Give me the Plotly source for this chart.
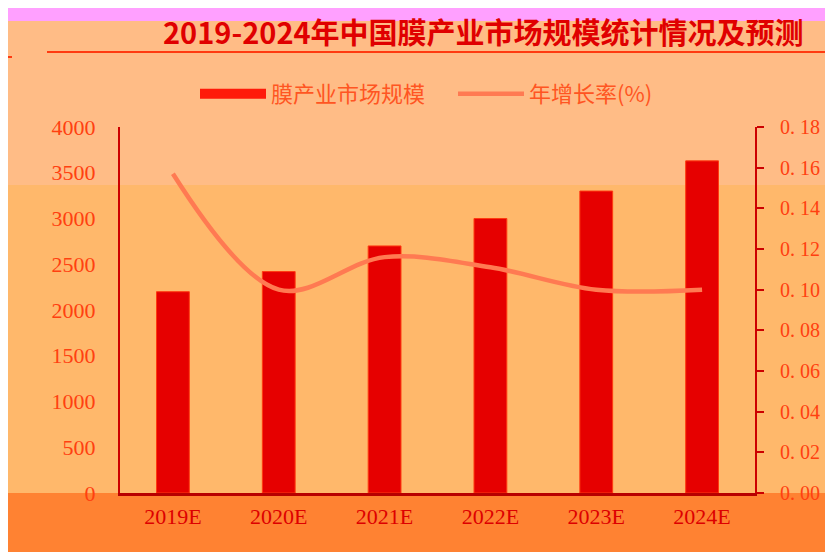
import plotly.graph_objects as go

# ---- data ----
years = ["2019E", "2020E", "2021E", "2022E", "2023E", "2024E"]
market_size = [2200, 2420, 2700, 3000, 3300, 3630]
growth_rate = [0.157, 0.10, 0.116, 0.111, 0.10, 0.10]
left_ticks = [0, 500, 1000, 1500, 2000, 2500, 3000, 3500, 4000]
right_ticks = [0.0, 0.02, 0.04, 0.06, 0.08, 0.10, 0.12, 0.14, 0.16, 0.18]
right_labels = ["0. 00", "0. 02", "0. 04", "0. 06", "0. 08", "0. 10", "0. 12", "0. 14", "0. 16", "0. 18"]
title_text = "2019-2024年中国膜产业市场规模统计情况及预测"
bar_name = "膜产业市场规模"
line_name = "年增长率(%)"

serif = "Liberation Serif, DejaVu Serif, Noto Sans CJK SC, serif"
cjk = "Noto Sans CJK SC, Liberation Serif, serif"

BAR_COLOR = "#E60000"
LINE_COLOR = "#FF7A52"

fig = go.Figure()
fig.add_trace(go.Bar(
    x=years, y=market_size, name=bar_name, showlegend=False, legendgroup="bar",
    marker=dict(color=BAR_COLOR, line=dict(color="#FF3A10", width=1)),
))
# legend entry for the bars drawn as a wide block (as in the reference legend)
fig.add_trace(go.Scatter(
    x=[None], y=[None], name=bar_name, legendgroup="bar", mode="lines",
    line=dict(color="#FF1A0A", width=13),
))
fig.add_trace(go.Scatter(
    x=years, y=growth_rate, name=line_name, yaxis="y2",
    mode="lines", line=dict(color=LINE_COLOR, width=4.5, shape="spline", smoothing=1.0),
))

# page offset of the figure (body margin)
OFF = 8
W, H = 833, 552
# plot area in page pixels
L, R, T, B = 120, 755, 127, 493


def px(x):
    return (x - L) / (R - L)


def py(y):
    return (B - y) / (B - T)


shapes = [
    dict(type="rect", xref="paper", yref="paper", x0=px(0), x1=px(W + 20), y0=py(185), y1=py(20),
         fillcolor="#FFBC86", line=dict(width=0), layer="below"),
    dict(type="rect", xref="paper", yref="paper", x0=px(0), x1=px(W + 20), y0=py(21), y1=py(0),
         fillcolor="#FFA0FF", line=dict(width=0), layer="below"),
    dict(type="rect", xref="paper", yref="paper", x0=px(0), x1=px(W + 20), y0=py(H + 20), y1=py(493),
         fillcolor="#FF8232", line=dict(width=0), layer="below"),
    dict(type="line", xref="paper", yref="paper", x0=px(47), x1=px(W + 20), y0=py(52), y1=py(52),
         line=dict(color="#FF3A10", width=2)),
    dict(type="line", xref="paper", yref="paper", x0=px(8), x1=px(12), y0=py(57), y1=py(57),
         line=dict(color="#FF3A10", width=2)),
]

fig.update_layout(
    width=W, height=H,
    margin=dict(l=L - OFF, r=W - (R - OFF), t=T - OFF, b=H - (B - OFF), pad=0),
    paper_bgcolor="#FFB86B",
    plot_bgcolor="rgba(0,0,0,0)",
    shapes=shapes,
    bargap=0.69,
    showlegend=True,
    legend=dict(orientation="h", x=px(195), y=py(94), xanchor="left", yanchor="middle",
                font=dict(family=cjk, size=22, color="#FF5522"), bgcolor="rgba(0,0,0,0)",
                itemwidth=66, entrywidth=177, traceorder="normal"),
    annotations=[dict(text="<b>" + title_text + "</b>", xref="paper", yref="paper",
                      x=px(483), y=py(31), xanchor="center", yanchor="middle", showarrow=False,
                      font=dict(family=cjk, size=29, color="#E00000"))],
    xaxis=dict(showline=True, linecolor="#B80000", linewidth=3, ticks="", showgrid=False,
               ticklabelstandoff=2,
               tickfont=dict(family=serif, size=22, color="#DD0000"), zeroline=False),
    yaxis=dict(range=[0, 4000], tickvals=left_ticks, showline=True, linecolor="#CC0000",
               linewidth=2, ticks="", showgrid=False, zeroline=False, ticklabelstandoff=18,
               tickfont=dict(family=serif, size=22, color="#FF4010")),
    yaxis2=dict(range=[0, 0.18], tickvals=right_ticks, ticktext=right_labels, overlaying="y",
                side="right", showline=True, linecolor="#CC0000", linewidth=2, ticks="outside",
                ticklen=7, tickwidth=2, tickcolor="#CC0000", showgrid=False, zeroline=False,
                ticklabelstandoff=12,
                tickfont=dict(family=serif, size=20, color="#FF4010")),
)

fig.write_html("out.html")
